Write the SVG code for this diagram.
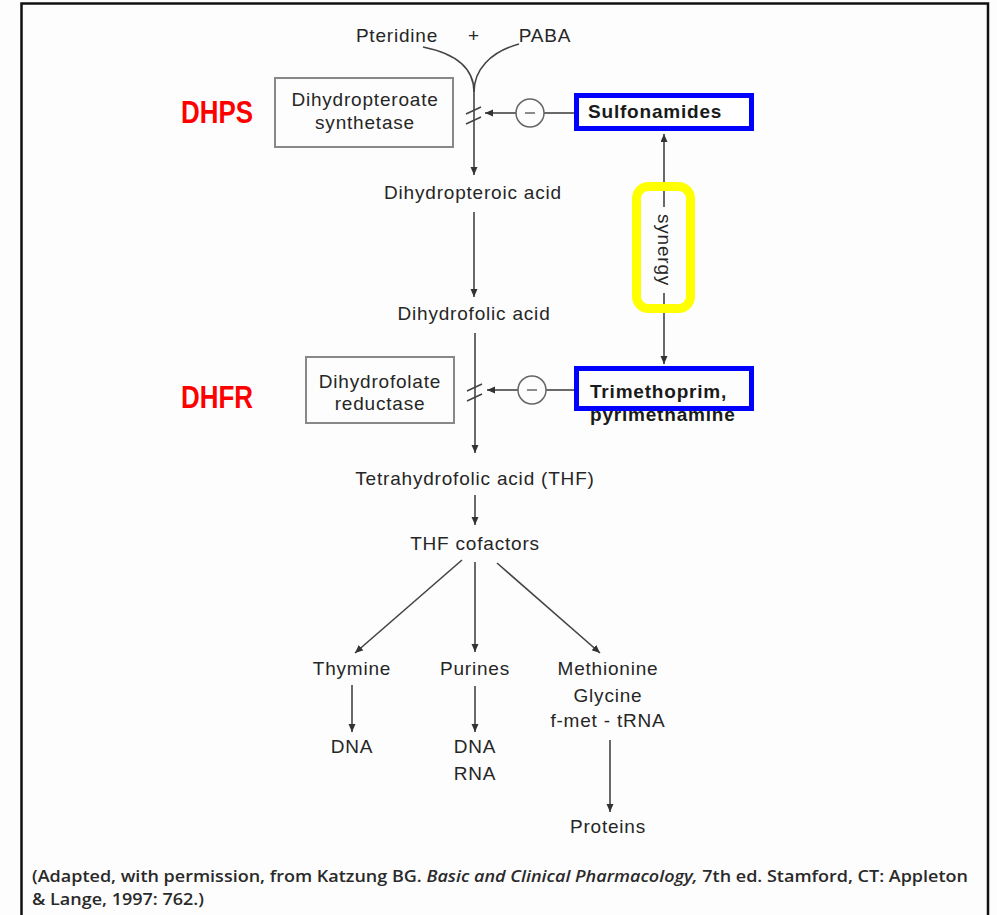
<svg xmlns="http://www.w3.org/2000/svg" width="997" height="915" viewBox="0 0 997 915">
<defs>
<marker id="ah" markerUnits="userSpaceOnUse" markerWidth="9" markerHeight="8" refX="8" refY="3.5" orient="auto"><path d="M0,0 L8,3.5 L0,7 z" fill="#333"/></marker>
<style>
.t{font-family:"Liberation Sans",Arial,sans-serif;font-size:19px;fill:#262626;letter-spacing:0.8px;text-anchor:middle}
.b{font-weight:bold;fill:#1a1a1a;text-anchor:start}
.ln{stroke:#444;stroke-width:1.6;fill:none}
.ar{marker-end:url(#ah)}
.enz{fill:none;stroke:#888;stroke-width:2}
.blue{fill:none;stroke:#0000FF;stroke-width:5}
.red{font-family:"Liberation Sans",Arial,sans-serif;font-weight:bold;font-size:32px;fill:#FF0000}
.cit{font-family:"Open Sans","Liberation Sans",sans-serif;font-size:16.5px;font-weight:600;fill:#2a2a2a}
</style>
</defs>
<rect width="997" height="915" fill="#fdfdfd"/>
<path d="M21.5,916 V3.5 H988 V916" fill="none" stroke="#111" stroke-width="2.5"/>

<g id="connectors">
<path class="ln" d="M423,47 C458,54 474,70 474,92"/>
<path class="ln" d="M519,44 C490,52 474,70 474,92"/>
<line class="ln ar" x1="474" y1="92" x2="474" y2="175"/>
<line class="ln" x1="466" y1="114" x2="481" y2="107"/>
<line class="ln" x1="466" y1="124" x2="481" y2="117"/>
<line class="ln ar" x1="516" y1="113" x2="485" y2="113"/>
<line class="ln" x1="544" y1="113" x2="574" y2="113"/>
<line class="ln ar" x1="474" y1="212" x2="474" y2="297"/>
<line class="ln ar" x1="475" y1="333" x2="475" y2="453"/>
<line class="ln" x1="467" y1="391" x2="482" y2="384"/>
<line class="ln" x1="467" y1="401" x2="482" y2="394"/>
<line class="ln ar" x1="518" y1="390" x2="487" y2="390"/>
<line class="ln" x1="546" y1="390" x2="575" y2="390"/>
<line class="ln ar" x1="664" y1="207" x2="664" y2="134"/>
<line class="ln ar" x1="664" y1="293" x2="664" y2="364"/>
<line class="ln ar" x1="475" y1="495" x2="475" y2="525"/>
<line class="ln ar" x1="462" y1="560" x2="355" y2="653"/>
<line class="ln ar" x1="475" y1="562" x2="475" y2="652"/>
<line class="ln ar" x1="497" y1="563" x2="600" y2="653"/>
<line class="ln ar" x1="352" y1="685" x2="352" y2="732"/>
<line class="ln ar" x1="475" y1="686" x2="475" y2="732"/>
<line class="ln ar" x1="610" y1="740" x2="610" y2="812"/>
</g>

<g id="inhib1"><circle cx="530" cy="113" r="14" fill="none" stroke="#666" stroke-width="1.5"/><line x1="525" y1="113" x2="535" y2="113" stroke="#666" stroke-width="1.5"/></g>
<g id="inhib2"><circle cx="532" cy="390" r="14" fill="none" stroke="#666" stroke-width="1.5"/><line x1="527" y1="390" x2="537" y2="390" stroke="#666" stroke-width="1.5"/></g>

<g id="pteridine"><text class="t" x="397" y="42">Pteridine</text></g>
<g id="plus"><text class="t" x="474" y="42">+</text></g>
<g id="paba"><text class="t" x="545" y="42">PABA</text></g>

<g id="dhps-label"><text class="red" x="181" y="123" textLength="72" lengthAdjust="spacingAndGlyphs">DHPS</text></g>
<g id="dhps-box"><rect class="enz" x="275" y="78" width="178" height="69"/><text class="t" x="365" y="106">Dihydropteroate</text><text class="t" x="365" y="129">synthetase</text></g>

<g id="sulfonamides"><rect x="576.5" y="95.5" width="175" height="33" fill="#fff"/><text class="t b" x="588" y="118">Sulfonamides</text><rect class="blue" x="576.5" y="95.5" width="175" height="33"/></g>

<g id="dihydropteroic"><text class="t" x="473" y="199">Dihydropteroic acid</text></g>
<g id="dihydrofolic"><text class="t" x="474" y="320">Dihydrofolic acid</text></g>

<g id="synergy"><text class="t" transform="translate(658,250) rotate(90)">synergy</text><rect x="636.5" y="186.5" width="54" height="122" rx="12" fill="none" stroke="#FFFF00" stroke-width="9"/></g>

<g id="dhfr-label"><text class="red" x="181" y="408" textLength="72" lengthAdjust="spacingAndGlyphs">DHFR</text></g>
<g id="dhfr-box"><rect class="enz" x="306" y="357" width="148" height="66"/><text class="t" x="380" y="388">Dihydrofolate</text><text class="t" x="380" y="410">reductase</text></g>

<g id="trimethoprim"><text class="t b" x="590" y="398">Trimethoprim,</text><text class="t b" x="590" y="421">pyrimethamine</text><rect class="blue" x="576.5" y="368.5" width="175" height="40"/></g>

<g id="thf"><text class="t" x="475" y="485">Tetrahydrofolic acid (THF)</text></g>
<g id="cofactors"><text class="t" x="475" y="550">THF cofactors</text></g>
<g id="thymine"><text class="t" x="352" y="675">Thymine</text></g>
<g id="dna1"><text class="t" x="352" y="753">DNA</text></g>
<g id="purines"><text class="t" x="475" y="675">Purines</text></g>
<g id="dnarna"><text class="t" x="475" y="753">DNA</text><text class="t" x="475" y="780">RNA</text></g>
<g id="methionine"><text class="t" x="608" y="675">Methionine</text><text class="t" x="608" y="702">Glycine</text><text class="t" x="608" y="727">f-met - tRNA</text></g>
<g id="proteins"><text class="t" x="608" y="833">Proteins</text></g>

<g id="citation">
<text class="cit" x="32" y="882" textLength="936" lengthAdjust="spacingAndGlyphs">(Adapted, with permission, from Katzung BG. <tspan font-style="italic">Basic and Clinical Pharmacology,</tspan> 7th ed. Stamford, CT: Appleton</text>
<text class="cit" x="32" y="905" textLength="172" lengthAdjust="spacingAndGlyphs">&amp; Lange, 1997: 762.)</text>
</g>
</svg>
